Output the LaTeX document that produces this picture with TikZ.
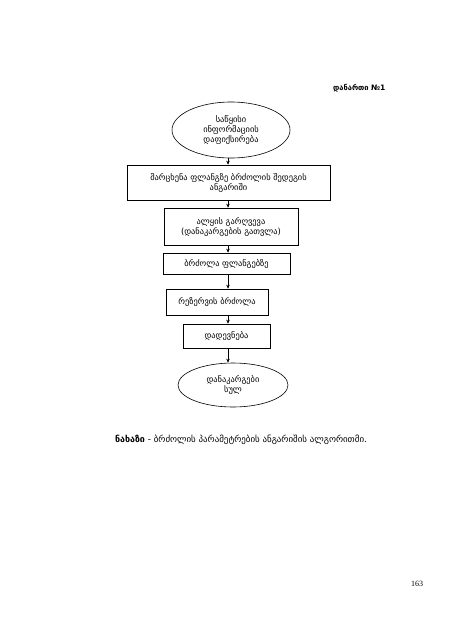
\documentclass[tikz,border=0pt]{standalone}
\usepackage{fontspec}
\setmainfont{DejaVu Sans}
\newfontfamily\numfont{Liberation Serif}
\usetikzlibrary{shapes.geometric,arrows.meta}
\begin{document}
\begin{tikzpicture}[x=1pt,y=-1pt,
  lbl/.style={font=\fontsize{8.4}{10}\selectfont, align=center, inner sep=1pt},
  oval/.style={lbl, draw, ellipse, line width=0.6pt},
  stepbox/.style={lbl, draw, rectangle, line width=0.6pt},
  arr/.style={line width=0.6pt, -{Stealth[length=4pt,width=3.5pt]}}]
\useasboundingbox[fill=white] (0,0) rectangle (453,640);
\node[font=\bfseries\fontsize{7.5}{9}\selectfont, anchor=east] (ann) at (389,88) {დანართი №1};
\node[oval, minimum width=118, minimum height=56] (e1) at (231,130) {საწყისი\\ინფორმაციის\\დაფიქსირება};
\node[stepbox, minimum width=203, minimum height=35] (b1) at (228.5,182.5) {მარცხენა ფლანგზე ბრძოლის შედეგის\\ანგარიში};
\node[stepbox, minimum width=134, minimum height=37] (b2) at (231,226.5) {ალყის გარღვევა\\(დანაკარგების გათვლა)};
\node[stepbox, minimum width=127, minimum height=21] (b3) at (226.5,263.5) {ბრძოლა ფლანგებზე};
\node[stepbox, minimum width=102, minimum height=26] (b4) at (217,302) {რეზერვის ბრძოლა};
\node[stepbox, minimum width=87, minimum height=24] (b5) at (226.5,336) {დადევნება};
\node[oval, minimum width=110, minimum height=44] (e2) at (233,385) {დანაკარგები\\სულ};
\coordinate (ax) at (228,0);
\draw[arr] (e1.south -| ax) -- (b1.north -| ax);
\draw[arr] (b1.south -| ax) -- (b2.north -| ax);
\draw[arr] (b2.south -| ax) -- (b3.north -| ax);
\draw[arr] (b3.south -| ax) -- (b4.north -| ax);
\draw[arr] (b4.south -| ax) -- (b5.north -| ax);
\draw[arr] (b5.south -| ax) -- (e2.north -| ax);
\node[font=\fontsize{8.9}{10}\selectfont, inner sep=1pt] (cap) at (241,440) {\textbf{ნახაზი} - ბრძოლის პარამეტრების ანგარიშის ალგორითმი.};
\node[font=\numfont\fontsize{8}{9}\selectfont, inner sep=1pt] (pg) at (417,584) {163};
\end{tikzpicture}
\end{document}
